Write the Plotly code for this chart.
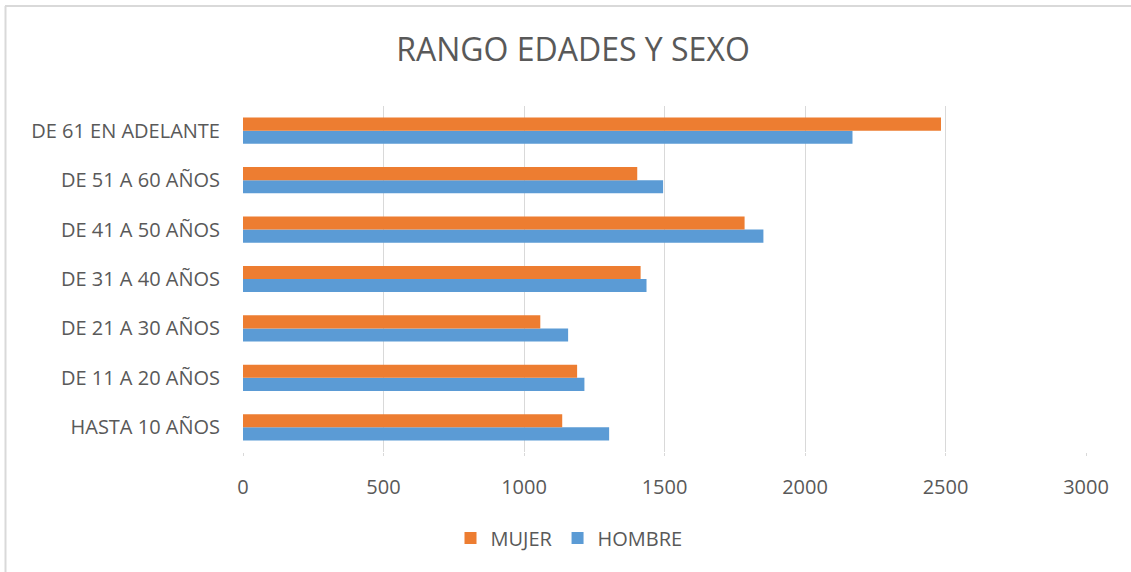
import plotly.graph_objects as go

categories = ["HASTA 10 AÑOS", "DE 11 A 20 AÑOS", "DE 21 A 30 AÑOS", "DE 31 A 40 AÑOS",
              "DE 41 A 50 AÑOS", "DE 51 A 60 AÑOS", "DE 61 EN ADELANTE"]
mujer = [1136, 1189, 1058, 1415, 1785, 1403, 2484]
hombre = [1303, 1215, 1157, 1436, 1852, 1495, 2169]
x_ticks = [0, 500, 1000, 1500, 2000, 2500, 3000]

FONT = "Open Sans"
TXT = "#595959"
W, H = 1131, 572
L, R, T, B = 243, 45, 106, 120
PW, PH = W - L - R, H - T - B

fig = go.Figure()
fig.add_trace(go.Bar(y=categories, x=hombre, name="HOMBRE", orientation="h",
                     marker=dict(color="#5B9BD5", line=dict(width=0))))
fig.add_trace(go.Bar(y=categories, x=mujer, name="MUJER", orientation="h",
                     marker=dict(color="#ED7D31", line=dict(width=0))))


def px_x(p):
    return (p - L) / PW


def px_y(p):
    return (H - B - p) / PH


fig.update_layout(
    width=W, height=H,
    margin=dict(l=L, r=R, t=T, b=B),
    paper_bgcolor="white", plot_bgcolor="white",
    barmode="group", bargap=0.47, bargroupgap=0,
    title=dict(text="RANGO EDADES Y SEXO", x=573 / W, xref="container", xanchor="center",
               y=1 - 50 / H, yanchor="middle",
               font=dict(family=FONT, size=32, color=TXT)),
    font=dict(family=FONT, size=19, color=TXT),
    xaxis=dict(range=[0, 3000], tickvals=x_ticks, showgrid=True, gridcolor="#D9D9D9",
               gridwidth=1, zeroline=False, showline=False, ticks="outside",
               ticklen=3, tickcolor="#D9D9D9", ticklabelstandoff=14,
               tickfont=dict(family=FONT, size=20, color=TXT), fixedrange=True),
    yaxis=dict(type="category", categoryorder="array", categoryarray=categories,
               showgrid=False, zeroline=False, showline=False, ticks="",
               ticklabelstandoff=22,
               tickfont=dict(family=FONT, size=20, color=TXT)),
    legend=dict(orientation="h", x=569 / W, xref="container", xanchor="center",
                y=1 - 538 / H, yref="container", yanchor="middle",
                traceorder="reversed", font=dict(family=FONT, size=20, color=TXT),
                itemwidth=30),
    showlegend=True,
    shapes=[
        dict(type="line", xref="paper", yref="paper",
             x0=px_x(5), x1=px_x(W + 5), y0=px_y(6), y1=px_y(6),
             line=dict(color="#D9D9D9", width=2), layer="below"),
        dict(type="line", xref="paper", yref="paper",
             x0=px_x(5.5), x1=px_x(5.5), y0=px_y(6), y1=px_y(H + 5),
             line=dict(color="#D9D9D9", width=2), layer="below"),
    ],
)

fig.write_html("out.html", config={"displayModeBar": False},
               post_script="document.body.style.margin='0';")
